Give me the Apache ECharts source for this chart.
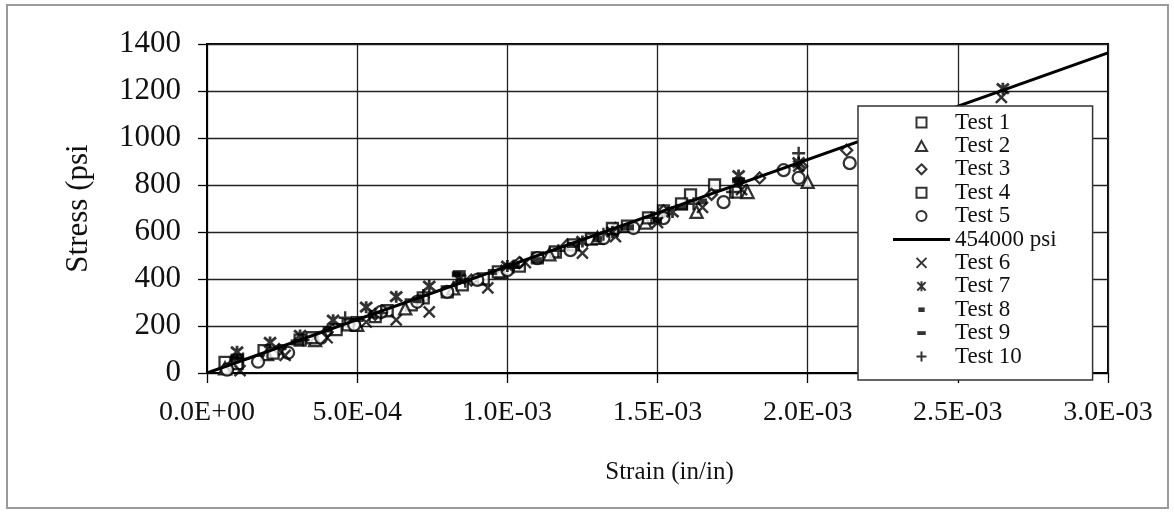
<!DOCTYPE html>
<html>
<head>
<meta charset="utf-8">
<script src="https://cdn.jsdelivr.net/npm/echarts@6/dist/echarts.min.js"></script>
<style>html,body{margin:0;padding:0;background:#fff}#c{width:1174px;height:514px}</style>
</head>
<body>
<div id="c"></div>
<script>
// ---- data (strain in/in, stress psi) ----
const seriesNames = ['Test 1','Test 2','Test 3','Test 4','Test 5','454000 psi','Test 6','Test 7','Test 8','Test 9','Test 10'];
const test1 = [[0.00006,45],[0.00019,95],[0.00031,140],[0.00043,185],[0.00056,240],[0.00068,290],[0.00080,345],[0.00092,400],[0.00104,455],[0.00116,515],[0.00128,570],[0.00140,625],[0.00152,690],[0.00161,758],[0.00169,800]];
const test2 = [[0.00006,20],[0.00020,80],[0.00036,140],[0.00050,205],[0.00066,275],[0.00082,360],[0.00098,430],[0.00114,505],[0.00130,575],[0.00146,640],[0.00163,686],[0.00180,770],[0.00200,813]];
const test3 = [[0.00008,30],[0.00024,100],[0.00040,175],[0.00056,250],[0.00072,320],[0.00088,395],[0.00104,470],[0.00120,545],[0.00136,615],[0.00152,690],[0.00168,760],[0.00184,830],[0.00198,880],[0.00213,948]];
const test4 = [[0.00010,40],[0.00022,85],[0.00035,150],[0.00047,205],[0.00060,265],[0.00072,320],[0.00085,375],[0.00097,430],[0.00110,490],[0.00122,545],[0.00135,615],[0.00147,660],[0.00158,720],[0.00176,770]];
const test5 = [[0.000067,14],[0.00017,48],[0.00027,86],[0.00038,150],[0.00049,205],[0.00058,260],[0.00070,303],[0.00080,345],[0.00090,396],[0.00100,438],[0.00110,489],[0.00121,523],[0.00132,574],[0.00142,617],[0.00152,659],[0.00172,727],[0.00192,863],[0.00197,830],[0.00214,893]];
const lineFit = [[0,0],[0.003,1362]];
const test6 = [[0.00011,10],[0.00026,75],[0.00040,150],[0.00053,217],[0.00063,226],[0.00074,260],[0.000935,362],[0.00106,470],[0.00125,510],[0.00136,580],[0.00150,640],[0.00165,705],[0.00178,780],[0.00197,880],[0.002645,1173]];
const test7 = [[0.00010,90],[0.00021,130],[0.00031,160],[0.00042,225],[0.00053,280],[0.00063,325],[0.00074,370],[0.00084,400],[0.00100,455],[0.00125,560],[0.00135,600],[0.00155,685],[0.00177,840],[0.00197,895],[0.00265,1210]];
const test8 = [[0.00009,60],[0.00025,110],[0.00040,185],[0.00055,245],[0.00070,310],[0.00083,420],[0.00095,430],[0.00110,480],[0.00130,570],[0.00150,650],[0.00165,730],[0.00177,810]];
const test9 = [[0.00010,70],[0.00030,130],[0.00050,230],[0.00084,425],[0.00102,455],[0.00122,545],[0.00140,620],[0.00158,705],[0.00177,820]];
const test10 = [[0.00012,60],[0.00032,140],[0.00046,235],[0.00058,255],[0.00072,330],[0.00086,390],[0.00102,450],[0.00117,520],[0.00132,590],[0.00148,660],[0.00162,720],[0.00175,770],[0.00197,935]];
const xTicks = {min:0, max:0.003, interval:0.0005};
const yTicks = {min:0, max:1400, interval:200};

const FONT = "'Liberation Serif','Times New Roman',serif";
function fmtX(v){
  if (Math.abs(v) < 1e-12) return '0.0E+00';
  const s = v.toExponential(1);
  const [m, e] = s.split('e');
  const n = parseInt(e, 10);
  const sign = n < 0 ? '-' : '+';
  const a = Math.abs(n);
  return m + 'E' + sign + (a < 10 ? '0' + a : '' + a);
}
const SQ = 'path://M0,0h10v10h-10z';
const TRI = 'path://M5,0L10,9L0,9z';
const DIA = 'path://M5,0L10,5L5,10L0,5z';
const XS = 'path://M0,0L10,10M10,0L0,10';
const AST = 'path://M0,0L10,10M10,0L0,10M5,-1L5,11';
const PLUS = 'path://M5,0L5,12M-1,6L11,6';
const hollow = {color:'#fff', borderColor:'#000', borderWidth:2.3};
const stroke = {color:'none', borderColor:'#000', borderWidth:2.4};
function sc(name, data, symbol, size, style){
  return {name, type:'scatter', data, symbol, symbolSize:size, itemStyle:style, z:3, animation:false};
}
const series = [
  sc('Test 1', test1, SQ, 11, hollow),
  sc('Test 2', test2, TRI, 12, hollow),
  sc('Test 3', test3, DIA, 11, hollow),
  sc('Test 4', test4, SQ, 11, hollow),
  sc('Test 5', test5, 'circle', 12, hollow),
  {name:'454000 psi', type:'line', data:lineFit, symbol:'none', showSymbol:false, lineStyle:{color:'#000', width:3}, itemStyle:{color:'#000'}, z:4, animation:false},
  sc('Test 6', test6, XS, 11, stroke),
  sc('Test 7', test7, AST, 12, {color:'none', borderColor:'#000', borderWidth:2.8}),
  sc('Test 8', test8, 'path://M0,0h8v4h-8z', [9,6], {color:'#000'}),
  sc('Test 9', test9, 'path://M0,0h12v5h-12z', [13,6], {color:'#000'}),
  sc('Test 10', test10, PLUS, 13, stroke)
];

const legendData = [
  {name:'Test 1', icon:SQ},
  {name:'Test 2', icon:TRI},
  {name:'Test 3', icon:DIA},
  {name:'Test 4', icon:SQ},
  {name:'Test 5', icon:'path://M5,0A5,5,0,1,1,4.99,0z'},
  {name:'454000 psi', icon:'path://M0,0h57v3h-57z', itemStyle:{color:'#000', borderWidth:0}},
  {name:'Test 6', icon:XS},
  {name:'Test 7', icon:AST},
  {name:'Test 8', icon:'path://M1,2h7v5h-7zM-1,-1M10,10'},
  {name:'Test 9', icon:'path://M0,3h11v5h-11zM0,-1M11,12'},
  {name:'Test 10', icon:PLUS}
];

const chart = echarts.init(document.getElementById('c'), null, {renderer:'canvas'});
chart.setOption({
  backgroundColor:'#fff',
  animation:false,
  graphic:[{type:'rect', shape:{x:7, y:5, width:1161, height:503}, style:{fill:'none', stroke:'#9a9a9a', lineWidth:2}, z:-10}],
  grid:{left:207, right:66, top:44, bottom:141, show:true, borderColor:'#000', borderWidth:2, backgroundColor:'#fff'},
  xAxis:{type:'value', min:xTicks.min, max:xTicks.max, interval:xTicks.interval,
    name:'Strain (in/in)', nameLocation:'middle', nameGap:87,
    nameTextStyle:{fontFamily:FONT, fontSize:25, color:'#111', padding:[0,0,0,24]},
    axisLine:{show:true, onZero:false, lineStyle:{color:'#000', width:2}},
    axisTick:{show:true, inside:false, length:10, lineStyle:{color:'#000', width:1.3}},
    axisLabel:{formatter:fmtX, fontFamily:FONT, fontSize:28, color:'#111', margin:26},
    splitLine:{show:true, lineStyle:{color:'#222', width:1.3}}},
  yAxis:{type:'value', min:yTicks.min, max:yTicks.max, interval:yTicks.interval,
    name:'Stress (psi', nameLocation:'middle', nameGap:113,
    nameTextStyle:{fontFamily:FONT, fontSize:31, color:'#111'},
    axisLine:{show:true, lineStyle:{color:'#000', width:2}},
    axisTick:{show:true, inside:false, length:9, lineStyle:{color:'#000', width:1.3}},
    axisLabel:{formatter:function(v){return String(v);}, fontFamily:FONT, fontSize:31, color:'#111', margin:26},
    splitLine:{show:true, lineStyle:{color:'#222', width:1.3}}},
  legend:{orient:'vertical', left:858, top:106, data:legendData,
    backgroundColor:'#fff', borderColor:'#333', borderWidth:1.5,
    padding:[5,36,12,35], itemWidth:57, itemHeight:10, itemGap:0.4,
    textStyle:{fontFamily:FONT, fontSize:23, color:'#111'},
    z:10},
  series
});
</script>
</body>
</html>
